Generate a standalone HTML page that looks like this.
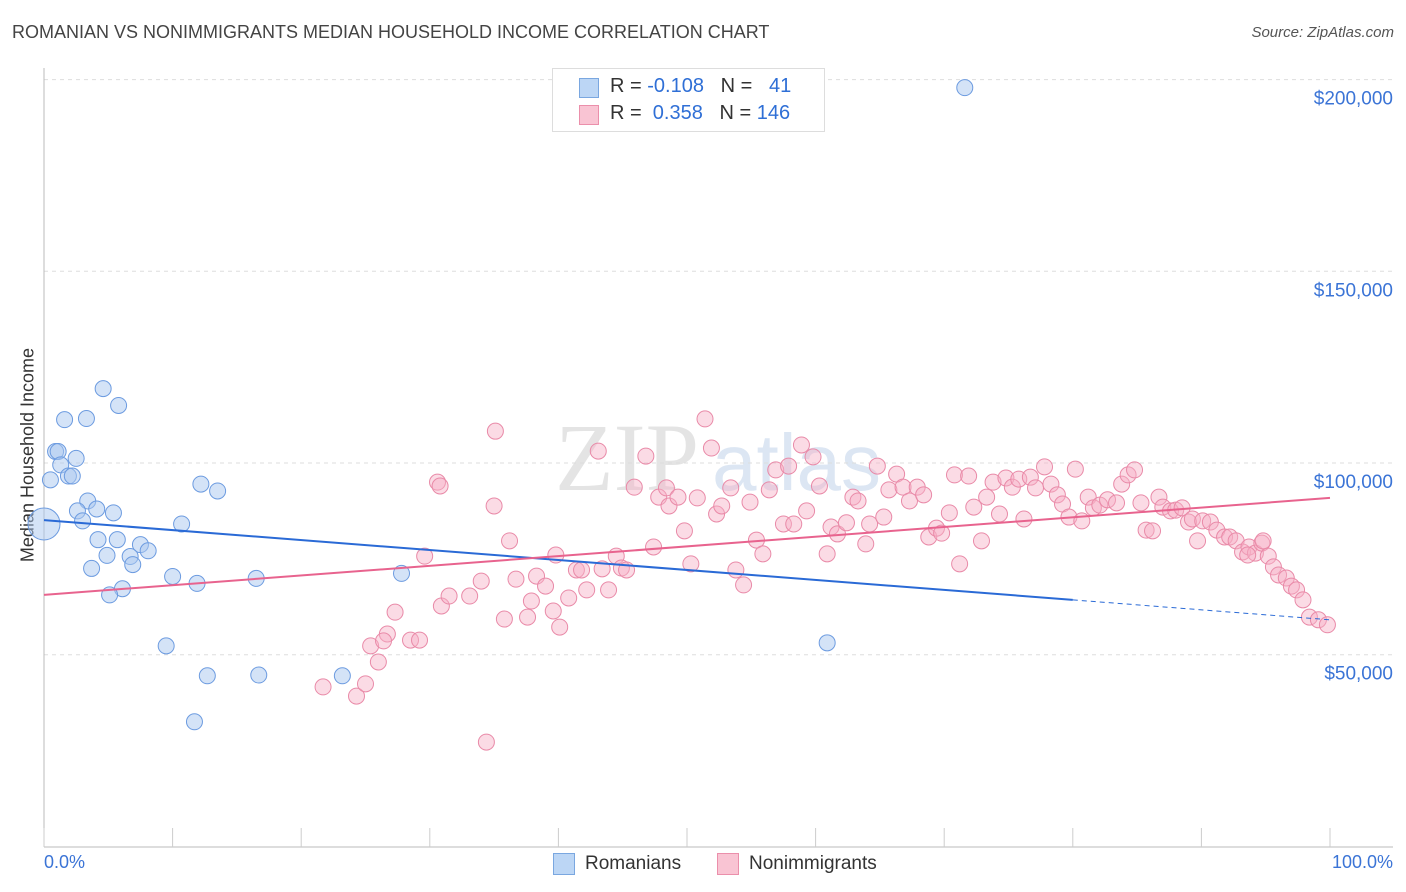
<!DOCTYPE html>
<html><head><meta charset="utf-8">
<style>
body{margin:0;background:#fff;font-family:"Liberation Sans",sans-serif;}
#wrap{position:relative;width:1406px;height:892px;overflow:hidden;}
.t{position:absolute;white-space:nowrap;}
</style></head>
<body>
<div id="wrap">
<div class="t" style="left:12px;top:22px;font-size:18px;color:#444;">ROMANIAN VS NONIMMIGRANTS MEDIAN HOUSEHOLD INCOME CORRELATION CHART</div>
<div class="t" style="right:12px;top:24px;font-size:15px;color:#555;font-style:italic;">Source: ZipAtlas.com</div>
<div class="t" style="left:28px;top:455px;font-size:18px;color:#333;transform:translate(-50%,-50%) rotate(-90deg);">Median Household Income</div>
<svg id="svg" width="1406" height="892" style="position:absolute;left:0;top:0"></svg>
<div style="position:absolute;left:552px;top:68px;width:271px;height:62px;border:1px solid #ddd;background:#fff;">
 <div style="position:absolute;left:26px;top:9px;width:18px;height:18px;background:#bcd6f5;border:1px solid #7aa7e0;"></div>
 <div class="t" style="left:57px;top:6px;font-size:20px;color:#333;">R = <span style="color:#2f6fd6">-0.108</span>&nbsp;&nbsp;&nbsp;N = &nbsp;&nbsp;<span style="color:#2f6fd6">41</span></div>
 <div style="position:absolute;left:26px;top:36px;width:18px;height:18px;background:#f9c4d3;border:1px solid #eb8fab;"></div>
 <div class="t" style="left:57px;top:33px;font-size:20px;color:#333;">R = &nbsp;<span style="color:#2f6fd6">0.358</span>&nbsp;&nbsp;&nbsp;N = <span style="color:#2f6fd6">146</span></div>
</div>
<div class="t" style="left:44px;top:852px;font-size:18px;color:#3b74d6;">0.0%</div>
<div class="t" style="right:13px;top:852px;font-size:18px;color:#3b74d6;">100.0%</div>
<div style="position:absolute;left:553px;top:853px;width:20px;height:20px;background:#bcd6f5;border:1px solid #7aa7e0;"></div>
<div class="t" style="left:585px;top:853px;font-size:19px;color:#333;">Romanians</div>
<div style="position:absolute;left:717px;top:853px;width:20px;height:20px;background:#f9c4d3;border:1px solid #eb8fab;"></div>
<div class="t" style="left:749px;top:853px;font-size:19px;color:#333;">Nonimmigrants</div>
</div>
<script>
const yTicks=[50000,100000,150000,200000];
const yTickLabels=["$50,000","$100,000","$150,000","$200,000"];
const xTicks=[0,10,20,30,40,50,60,70,80,90,100];
const blueX=[71.6,4.6,5.8,1.6,3.3,0.9,1.1,2.5,1.3,0.5,1.9,2.2,3.4,2.6,4.1,5.4,3.0,0,10.7,12.2,13.5,4.2,5.7,7.5,8.1,4.9,6.7,6.9,3.7,10.0,11.9,16.5,27.8,6.1,5.1,9.5,12.7,16.7,23.2,11.7,60.9];
const blueY=[197900,119400,115000,111300,111600,103000,103000,101200,99500,95600,96600,96600,90100,87500,88000,87000,84900,84100,84100,94500,92700,80000,80000,78700,77100,75900,75600,73500,72500,70400,68600,69900,71200,67200,65600,52300,44500,44700,44500,32500,53100];
const pinkPx=[[487,742],[323,687],[357,696],[366,684],[378,662],[371,646],[387,634],[383,641],[410,640],[420,640],[395,612],[425,556],[437,482],[441,606],[449,596],[470,596],[481,581],[496,431],[494,506],[505,619],[510,541],[516,579],[527,617],[531,601],[537,576],[546,586],[553,611],[556,555],[560,627],[569,598],[577,570],[581,570],[587,590],[598,451],[602,569],[609,590],[616,556],[621,568],[627,570],[634,487],[646,456],[653,547],[659,497],[666,488],[669,506],[678,497],[685,531],[691,564],[697,498],[705,419],[712,448],[716,514],[722,506],[731,488],[736,570],[743,585],[750,502],[757,540],[763,554],[769,490],[776,470],[783,524],[788,466],[794,524],[802,445],[807,511],[813,457],[820,486],[827,554],[831,527],[838,534],[846,523],[853,497],[858,501],[866,544],[870,524],[877,466],[884,517],[889,490],[897,474],[903,487],[910,501],[917,487],[924,495],[929,537],[936,528],[942,533],[949,513],[955,475],[960,564],[968,476],[974,507],[981,541],[986,497],[993,482],[1000,514],[1006,478],[1013,487],[1019,479],[1024,519],[1031,477],[1036,488],[1044,467],[1051,484],[1057,495],[1063,504],[1069,517],[1076,469],[1082,521],[1088,497],[1094,508],[1100,505],[1108,500],[1116,503],[1122,484],[1128,475],[1134,470],[1141,503],[1146,530],[1152,531],[1159,497],[1163,507],[1170,511],[1176,510],[1182,508],[1188,522],[1193,519],[1197,541],[1203,521],[1210,522],[1217,530],[1224,537],[1230,537],[1236,541],[1242,552],[1249,547],[1256,553],[1262,543],[1268,556],[1273,567],[1279,575],[1286,578],[1292,586],[1297,590],[1303,600],[1310,617],[1318,620],[1327,625],[1263,541],[1248,555],[440,486]];
const pinkX=pinkPx.map(p=>Math.round((p[0]-44)/12.86*10)/10);
const pinkY=pinkPx.map(p=>Math.round((100000-(p[1]-463)*260.8)/100)*100);
const blueTrend=[85100,59100];
const pinkTrend=[65600,90900];

const X0=44,X1=1330;
function sx(p){return X0+(X1-X0)*p/100;}
function sy(v){return 463-(v-100000)*191.7/50000;}
const svg=document.getElementById('svg');const NS='http://www.w3.org/2000/svg';
function mk(tag,attrs){const e=document.createElementNS(NS,tag);for(const k in attrs)e.setAttribute(k,attrs[k]);svg.appendChild(e);return e;}
// watermark
let wm=mk('text',{x:555,y:490,'font-size':96,'font-family':'Liberation Serif,serif',fill:'#e4e4e4'});wm.textContent='ZIP';


let wm2=mk('text',{x:712,y:490,'font-size':80,'font-family':'Liberation Sans,sans-serif',fill:'#dce6f3'});wm2.textContent='atlas';


yTicks.forEach((v,i)=>{
 const g=mk('line',{x1:X0,x2:1393,y1:sy(v),y2:sy(v),stroke:'#ddd','stroke-dasharray':'4,4'});
 
 
 const t=mk('text',{x:1393,y:sy(v)+25,'text-anchor':'end','font-size':19,'font-family':'Liberation Sans,sans-serif',fill:'#3b74d6'});
 t.textContent=yTickLabels[i];
 
 
});
const ya=mk('line',{x1:X0,x2:X0,y1:68,y2:847,stroke:'#bbb'});


const xa=mk('line',{x1:X0,x2:1393,y1:847,y2:847,stroke:'#bbb'});


xTicks.forEach(p=>{
 const t=mk('line',{x1:sx(p),x2:sx(p),y1:828,y2:847,stroke:'#ccc'});
 
 
});
pinkX.forEach((x,i)=>{
 const c=mk('circle',{cx:sx(x),cy:sy(pinkY[i]),r:8,fill:'rgba(246,176,198,0.45)',stroke:'#e98aa8','stroke-width':1});
 
 
});
blueX.forEach((x,i)=>{
 const c=mk('circle',{cx:sx(x),cy:sy(blueY[i]),r:(x===0?16:8),fill:'rgba(170,200,240,0.5)',stroke:'#6c9be0','stroke-width':1});
 
 
});
function lv(tr,p){return tr[0]+(tr[1]-tr[0])*p/100;}
const bl=mk('line',{x1:sx(0),y1:sy(lv(blueTrend,0)),x2:sx(80),y2:sy(lv(blueTrend,80)),stroke:'#2a6ad6','stroke-width':2});


const bd=mk('line',{x1:sx(80),y1:sy(lv(blueTrend,80)),x2:sx(100),y2:sy(lv(blueTrend,100)),stroke:'#2a6ad6','stroke-width':1,'stroke-dasharray':'5,4'});


const pl=mk('line',{x1:sx(0),y1:sy(lv(pinkTrend,0)),x2:sx(100),y2:sy(lv(pinkTrend,100)),stroke:'#e8638e','stroke-width':2});


</script>
</body></html>
